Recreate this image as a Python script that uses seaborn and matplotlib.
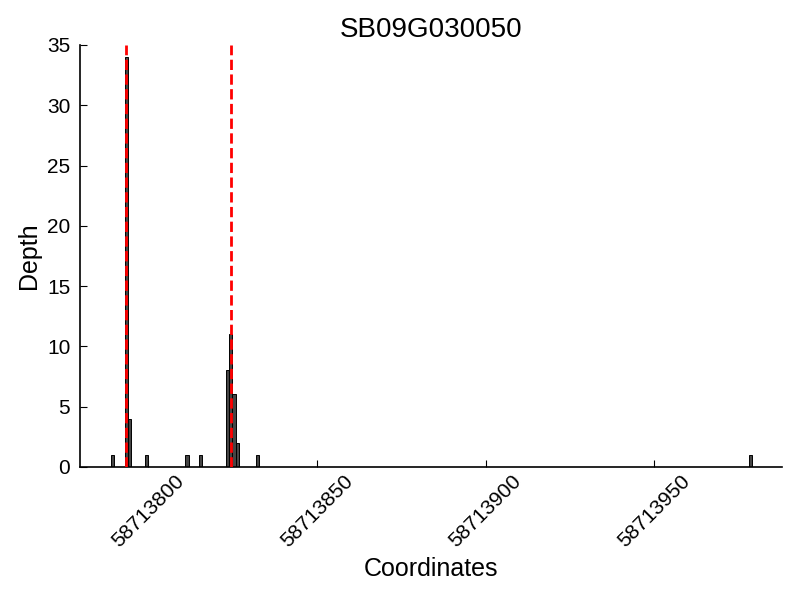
import matplotlib
matplotlib.use("Agg")
import matplotlib.pyplot as plt
import seaborn as sns
import numpy as np

title = "SB09G030050"
positions = [58713789, 58713793, 58713794, 58713799, 58713811, 58713815,
             58713823, 58713824, 58713825, 58713826, 58713832, 58713978]
depths = [1, 34, 4, 1, 1, 1, 8, 11, 6, 2, 1, 1]
marker_positions = [58713793.5, 58713824.5]
x_ticks = [58713800, 58713850, 58713900, 58713950]
x_tick_labels = ["58713800", "58713850", "58713900", "58713950"]
y_ticks = [0, 5, 10, 15, 20, 25, 30, 35]

sns.set_style("ticks")
plt.rcParams['font.family'] = ['Liberation Sans', 'DejaVu Sans']
plt.rcParams['text.color'] = 'black'
plt.rcParams['axes.labelcolor'] = 'black'
plt.rcParams['xtick.color'] = 'black'
plt.rcParams['ytick.color'] = 'black'

fig = plt.figure(figsize=(8, 6), dpi=100)
ax = fig.add_axes([0.1, 0.222, 0.878, 0.703])

sns.histplot(x=positions, weights=depths, binwidth=1,
             binrange=(58713789, 58713979), color='#454545',
             edgecolor='black', linewidth=0.7, alpha=1, ax=ax)

for m in marker_positions:
    ax.axvline(m, color='red', linestyle='--', linewidth=2, zorder=5)

ax.set_xlim(58713779.8, 58713988)
ax.set_ylim(0, 35)
ax.set_xticks(x_ticks)
ax.set_xticklabels(x_tick_labels, rotation=45, fontsize=15)
ax.set_yticks(y_ticks)
ax.set_yticklabels([str(v) for v in y_ticks], fontsize=15)
ax.tick_params(direction='in', length=5, width=0.8, color='black')
ax.tick_params(axis='y', pad=7)
for s in ['top', 'right']:
    ax.spines[s].set_visible(False)
for s in ['left', 'bottom']:
    ax.spines[s].set_color('black')
    ax.spines[s].set_linewidth(1.2)
ax.set_xlabel("Coordinates", fontsize=18)
ax.set_ylabel("Depth", fontsize=18)
ax.set_title(title, fontsize=20)

fig.savefig("out.png", dpi=100)
